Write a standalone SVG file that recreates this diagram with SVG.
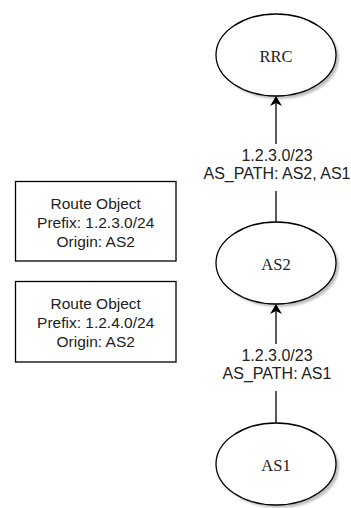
<svg xmlns="http://www.w3.org/2000/svg" width="351" height="508" viewBox="0 0 351 508">
<style>
.node{fill:#fff;stroke:#000;stroke-width:1.3}
.shadow{fill:#000;opacity:0.25}
.st{font-family:"Liberation Serif",serif;font-size:16.5px;fill:#222;text-anchor:middle}
.ss{font-family:"Liberation Sans",Arial,sans-serif;font-size:15.5px;fill:#222;text-anchor:middle}
.sl{font-family:"Liberation Sans",Arial,sans-serif;font-size:16px;fill:#222;text-anchor:middle}
.edge{stroke:#000;stroke-width:1.3;fill:none}
</style>
<defs>
<marker id="arr" markerWidth="10" markerHeight="12" refX="9" refY="6" orient="auto" markerUnits="userSpaceOnUse">
<path d="M0,0 L10,6 L0,12 L3,6 Z" fill="#000"/>
</marker>
<filter id="blur"><feGaussianBlur stdDeviation="1"/></filter>
</defs>
<rect width="351" height="508" fill="#fff"/>
<g id="connectors">
<path class="edge" d="M276,222 V97" marker-end="url(#arr)"/>
<path class="edge" d="M276,423 V305" marker-end="url(#arr)"/>
<rect x="218" y="144" width="118" height="47" fill="#fff"/>
<rect x="218" y="344" width="118" height="47" fill="#fff"/>
<text class="sl" x="277" y="161">1.2.3.0/23</text>
<text class="sl" x="277" y="178.5">AS_PATH: AS2, AS1</text>
<text class="sl" x="277" y="361">1.2.3.0/23</text>
<text class="sl" x="277" y="379">AS_PATH: AS1</text>
</g>
<g id="RRC">
<ellipse class="shadow" cx="279" cy="58" rx="60" ry="41" filter="url(#blur)"/>
<ellipse class="node" cx="276" cy="55" rx="60" ry="41"/>
<text class="st" x="276" y="61.5">RRC</text>
</g>
<g id="AS2">
<ellipse class="shadow" cx="279" cy="266" rx="60" ry="41" filter="url(#blur)"/>
<ellipse class="node" cx="276" cy="263" rx="60" ry="41"/>
<text class="st" x="276" y="269.5">AS2</text>
</g>
<g id="AS1">
<ellipse class="shadow" cx="279" cy="467" rx="60" ry="41" filter="url(#blur)"/>
<ellipse class="node" cx="276" cy="464" rx="60" ry="41"/>
<text class="st" x="276" y="471">AS1</text>
</g>
<g id="route1">
<rect class="node" x="15.5" y="181.5" width="160.5" height="79.5"/>
<text class="ss" x="95.7" y="208.5">Route Object</text>
<text class="ss" x="95.7" y="227.5">Prefix: 1.2.3.0/24</text>
<text class="ss" x="95.7" y="246.5">Origin: AS2</text>
</g>
<g id="route2">
<rect class="node" x="15.5" y="281.5" width="160.5" height="80.5"/>
<text class="ss" x="95.7" y="309">Route Object</text>
<text class="ss" x="95.7" y="328">Prefix: 1.2.4.0/24</text>
<text class="ss" x="95.7" y="347">Origin: AS2</text>
</g>
</svg>
